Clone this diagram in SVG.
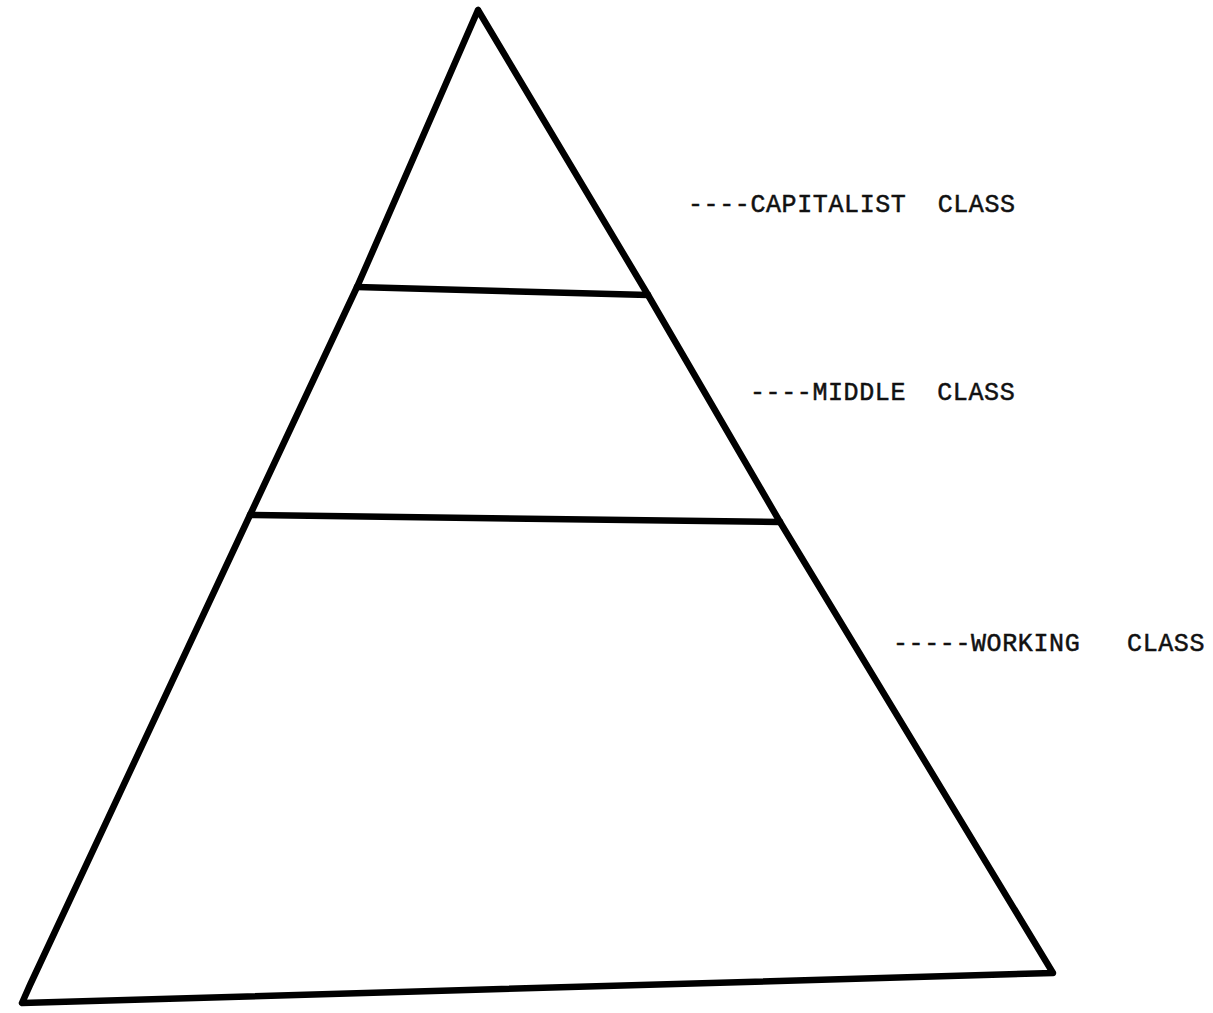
<svg xmlns="http://www.w3.org/2000/svg" width="1213" height="1013" viewBox="0 0 1213 1013">
<style>
.ln{fill:none;stroke:#000;stroke-width:6.5;stroke-linejoin:round;stroke-linecap:round}
.lb{font-family:"Liberation Mono","Courier New",monospace;font-size:25px;letter-spacing:0.6px;fill:#111;stroke:#111;stroke-width:0.5;white-space:pre}
</style>
<rect width="1213" height="1013" fill="#fff"/>
<g id="pyramid">
<polyline class="ln" points="478,10 368,262 357,287 250,515 30,985 22,1003 1053,973 780,522 648,295 478,10"/>
</g>
<g id="connectors">
<line class="ln" x1="357" y1="287" x2="648" y2="295"/>
<line class="ln" x1="250" y1="515" x2="780" y2="522"/>
</g>
<g id="capitalist"><text class="lb" xml:space="preserve" x="688" y="212">----CAPITALIST  CLASS</text></g>
<g id="middle"><text class="lb" xml:space="preserve" x="750" y="400">----MIDDLE  CLASS</text></g>
<g id="working"><text class="lb" xml:space="preserve" x="893" y="651">-----WORKING   CLASS</text></g>
</svg>
